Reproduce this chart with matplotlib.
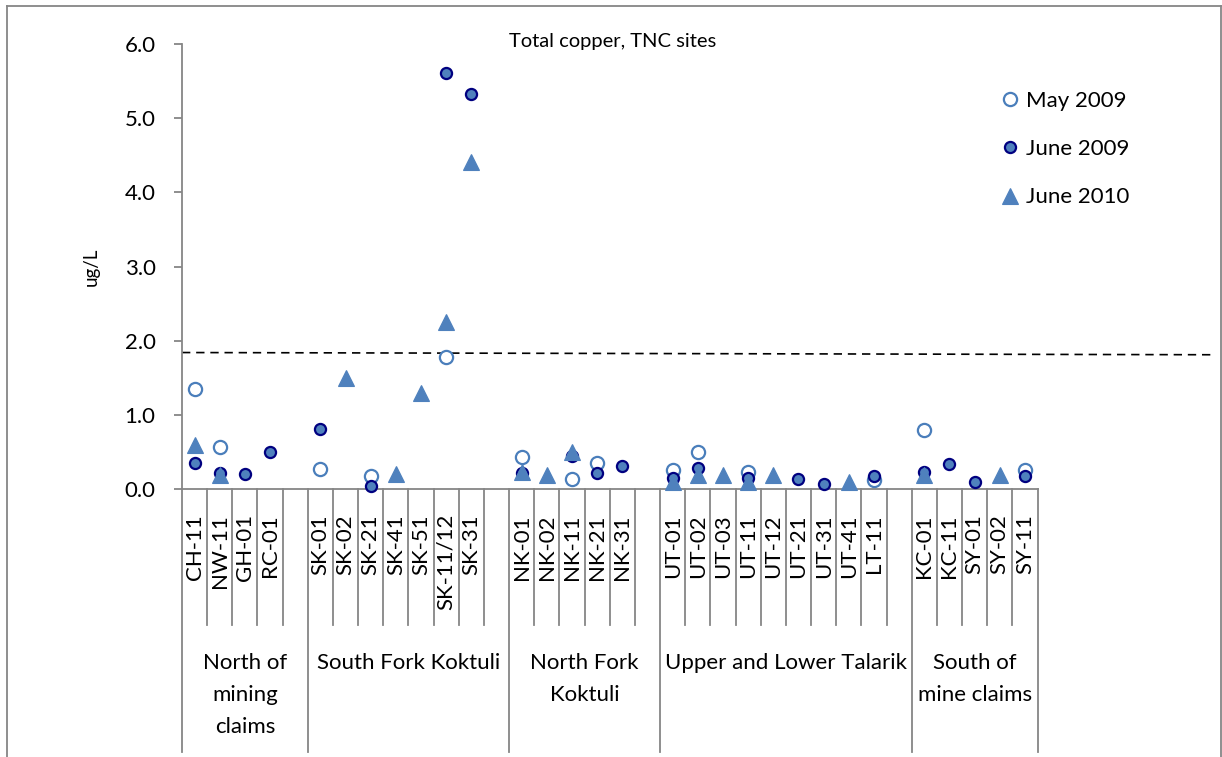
import numpy as np
import matplotlib
matplotlib.use("Agg")
import matplotlib.pyplot as plt
from matplotlib.lines import Line2D

plt.rcParams['font.family'] = ['Lato', 'DejaVu Sans']

nan = np.nan
categories = ["CH-11", "NW-11", "GH-01", "RC-01", "",
              "SK-01", "SK-02", "SK-21", "SK-41", "SK-51", "SK-11/12", "SK-31", "",
              "NK-01", "NK-02", "NK-11", "NK-21", "NK-31", "",
              "UT-01", "UT-02", "UT-03", "UT-11", "UT-12", "UT-21", "UT-31", "UT-41", "LT-11", "",
              "KC-01", "KC-11", "SY-01", "SY-02", "SY-11"]
groups = ["North of\nmining\nclaims", "South Fork Koktuli", "North Fork\nKoktuli",
          "Upper and Lower Talarik", "South of\nmine claims"]
group_sizes = [5, 8, 6, 10, 5]

may_2009 = [1.35, 0.56, nan, nan, nan,
            0.27, nan, 0.17, nan, nan, 1.78, nan, nan,
            0.43, nan, 0.13, 0.35, nan, nan,
            0.25, 0.50, nan, 0.23, nan, nan, nan, nan, 0.12, nan,
            0.80, nan, nan, nan, 0.25]
june_2009 = [0.35, 0.21, 0.20, 0.50, nan,
             0.81, nan, 0.045, nan, nan, 5.61, 5.33, nan,
             0.22, nan, 0.44, 0.21, 0.31, nan,
             0.15, 0.28, nan, 0.15, nan, 0.13, 0.065, nan, 0.17, nan,
             0.23, 0.34, 0.10, nan, 0.18]
june_2010 = [0.60, 0.19, nan, nan, nan,
             nan, 1.50, nan, 0.20, 1.30, 2.25, 4.41, nan,
             0.23, 0.19, 0.50, nan, nan, nan,
             0.10, 0.19, 0.19, 0.09, 0.19, nan, nan, 0.10, nan, nan,
             0.19, nan, nan, 0.19, nan]
threshold = [1.84, 1.81]
yticks = [0, 1, 2, 3, 4, 5, 6]

W, H = 1222, 757
def fx(px): return px / W
def fy(py): return 1 - py / H

GRAY = '#868686'
BLUE = '#4F81BD'
NAVY = '#000080'

fig = plt.figure(figsize=(W / 100, H / 100), dpi=100)
fig.patch.set_facecolor('white')

# chart area border
for xs, ys in [([7, 7], [6, 760]), ([7, 1221], [6, 6]), ([1221, 1221], [6, 760])]:
    fig.add_artist(Line2D([fx(x) for x in xs], [fy(y) for y in ys], color=GRAY, lw=1.3))

ax_left, ax_right, ax_top, ax_bottom = 182, 1215, 44, 489
ax = fig.add_axes([fx(ax_left), fy(ax_bottom), fx(ax_right) - fx(ax_left), (ax_bottom - ax_top) / H])
n = len(categories)
slot = (1037.5 - ax_left) / n
span = (ax_right - ax_left) / slot
ax.set_xlim(-0.5, -0.5 + span)
ax.set_ylim(0, 6)

def ya(py):
    return (ax_bottom - py) / (ax_bottom - ax_top)

x = np.arange(n)
ax.plot(x, may_2009, linestyle='none', marker='o', ms=9.5, mfc='white', mec='#4A7EBB', mew=1.6,
        label='May 2009', clip_on=False, zorder=3)
ax.plot(x, june_2009, linestyle='none', marker='o', ms=8, mfc=BLUE, mec=NAVY, mew=1.6,
        label='June 2009', clip_on=False, zorder=4)
ax.plot(x, june_2010, linestyle='none', marker='^', ms=11.5, mfc=BLUE, mec=BLUE, mew=0.8,
        label='June 2010', clip_on=False, zorder=5)

xl = ax.get_xlim()
ax.plot([xl[0], xl[1]], threshold, color='black', lw=1.2, dashes=(5, 3.5), zorder=2)

# spines
for s in ['top', 'right']:
    ax.spines[s].set_visible(False)
ax.spines['left'].set_color(GRAY)
ax.spines['left'].set_linewidth(1.3)
ax.spines['bottom'].set_color(GRAY)
ax.spines['bottom'].set_linewidth(1.3)
ax.spines['bottom'].set_bounds(-0.5, n - 0.5)
ax.set_xticks([])
ax.set_yticks(yticks)
ax.set_yticklabels([f"{v:.1f}" for v in yticks])
ax.tick_params(axis='y', direction='out', length=6, width=1.3, color=GRAY, pad=13, labelsize=16)

tr = ax.get_xaxis_transform()
# category labels
for i, c in enumerate(categories):
    if c:
        ax.text(i, ya(514), c, rotation=90, ha='center', va='top', fontsize=16,
                transform=tr, clip_on=False)

# separators
group_edges = np.concatenate([[0], np.cumsum(group_sizes)]) - 0.5
for b in np.arange(-0.5, n, 1.0):
    is_group = np.any(np.isclose(group_edges, b))
    bottom = 752 if is_group else 625
    ax.add_line(Line2D([b, b], [ya(ax_bottom), ya(bottom)], color=GRAY, lw=1.3,
                       transform=tr, clip_on=False))

# group labels
for g, lo, hi in zip(groups, group_edges[:-1], group_edges[1:]):
    cx = (lo + hi) / 2
    for k, line in enumerate(g.split("\n")):
        ax.text(cx, ya(663 + 32 * k), line, ha='center', va='center', fontsize=16,
                transform=tr, clip_on=False)

fig.text(fx(613), fy(42), "Total copper, TNC sites", ha='center', va='center', fontsize=14.5)
fig.text(fx(91), fy(267), "ug/L", rotation=90, ha='center', va='center', fontsize=13.5)

leg = ax.legend(loc='upper left', bbox_to_anchor=(fx(1000), fy(91)), bbox_transform=fig.transFigure,
                frameon=False, fontsize=16, borderpad=0, handlelength=0.9, handletextpad=0.25,
                labelspacing=1.27, borderaxespad=0)

fig.savefig("out.png", dpi=100)
